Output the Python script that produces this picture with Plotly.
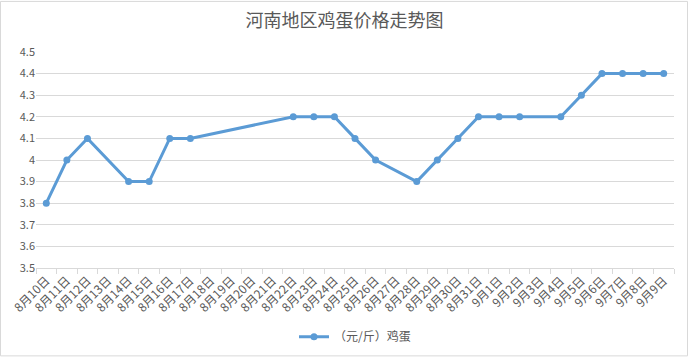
import plotly.graph_objects as go

dates = ["8月10日","8月11日","8月12日","8月13日","8月14日","8月15日","8月16日","8月17日","8月18日","8月19日",
         "8月20日","8月21日","8月22日","8月23日","8月24日","8月25日","8月26日","8月27日","8月28日","8月29日",
         "8月30日","8月31日","9月1日","9月2日","9月3日","9月4日","9月5日","9月6日","9月7日","9月8日","9月9日"]
prices = [3.8, 4.0, 4.1, None, 3.9, 3.9, 4.1, 4.1, None, None,
          None, None, 4.2, 4.2, 4.2, 4.1, 4.0, None, 3.9, 4.0,
          4.1, 4.2, 4.2, 4.2, None, 4.2, 4.3, 4.4, 4.4, 4.4, 4.4]
series_name = "（元/斤）鸡蛋"
yticks = [3.5, 3.6, 3.7, 3.8, 3.9, 4.0, 4.1, 4.2, 4.3, 4.4, 4.5]
ytick_text = ["3.5", "3.6", "3.7", "3.8", "3.9", "4", "4.1", "4.2", "4.3", "4.4", "4.5"]

FONT = "Noto Sans CJK SC, Microsoft YaHei, sans-serif"
GRAY = "#595959"
BLUE = "#5B9BD5"

L, R, T, B = 36, 15, 52, 91
PW, PH = 689 - L - R, 363 - T - B

fig = go.Figure()
fig.add_trace(go.Scatter(
    x=dates, y=prices, name=series_name, mode="lines+markers",
    connectgaps=True,
    line=dict(color=BLUE, width=3),
    marker=dict(color=BLUE, size=7),
))

fig.update_layout(
    width=689, height=363,
    margin=dict(l=L, r=R, t=T, b=B),
    paper_bgcolor="white", plot_bgcolor="white",
    font=dict(family=FONT, color=GRAY, size=11),
    title=dict(text="河南地区鸡蛋价格走势图", x=0.5, xanchor="center", y=1 - 21/363, yanchor="middle",
               font=dict(size=18, color=GRAY, family=FONT)),
    showlegend=True,
    legend=dict(orientation="h", x=0.5, xanchor="center", y=-70/PH, yanchor="middle",
                font=dict(size=12, color=GRAY), bgcolor="rgba(0,0,0,0)"),
    xaxis=dict(
        type="category", categoryorder="array", categoryarray=dates,
        range=[-0.5, len(dates) - 0.5], automargin=False,
        tickson="boundaries", ticks="outside", ticklen=5, tickcolor="#d9d9d9",
        tickangle=-45, showgrid=False, showline=True, linecolor="#d9d9d9", linewidth=1,
        tickfont=dict(size=12, color=GRAY), zeroline=False,
    ),
    yaxis=dict(
        range=[3.5, 4.5], tickvals=yticks, ticktext=ytick_text, automargin=False,
        showgrid=True, gridcolor="#d9d9d9", gridwidth=1, zeroline=False,
        showline=False, ticks="", tickfont=dict(size=11, color=GRAY),
    ),
    shapes=[dict(type="rect", xref="paper", yref="paper", x0=-(L - 0.5)/PW, x1=1 + (R - 1.5)/PW,
                 y0=-(B - 1.5)/PH, y1=1 + (T - 0.5)/PH, line=dict(color="#d9d9d9", width=1), layer="below")],
)

fig.write_html("out.html", config={"displayModeBar": False},
               post_script="document.body.style.margin='0';document.body.style.overflow='hidden';")
